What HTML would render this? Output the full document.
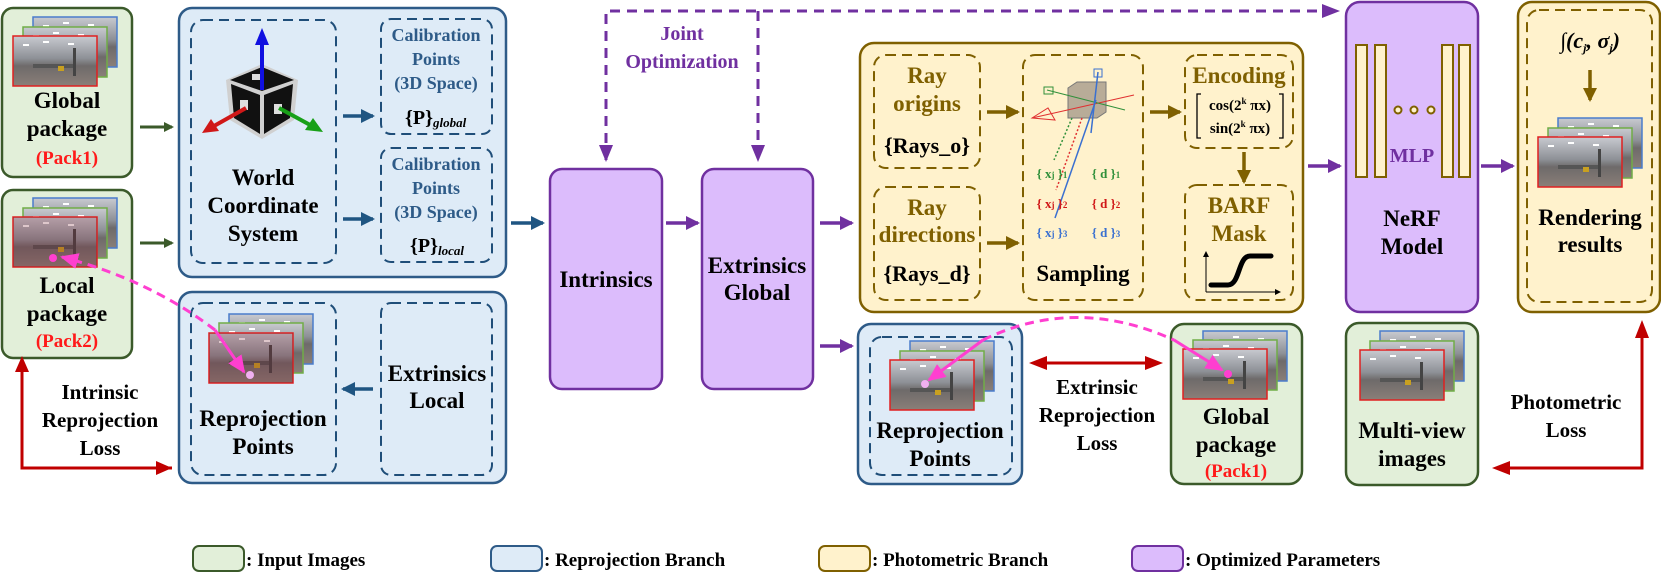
<!DOCTYPE html>
<html><head><meta charset="utf-8"><style>
html,body{margin:0;padding:0;background:#fff}
svg{display:block}
text{font-family:"Liberation Serif",serif;font-weight:bold}
</style></head><body>
<svg width="1661" height="582" viewBox="0 0 1661 582" xmlns="http://www.w3.org/2000/svg">
<defs>
<marker id="ag" markerWidth="10" markerHeight="10" refX="8" refY="5" orient="auto" markerUnits="userSpaceOnUse" viewBox="0 0 10 10"><path d="M0,0L10,5L0,10z" fill="#3b5a2a"/></marker>
<marker id="ab" markerWidth="14" markerHeight="14" refX="12" refY="7" orient="auto" markerUnits="userSpaceOnUse"><path d="M0,0L14,7L0,14z" fill="#1f5582"/></marker>
<marker id="ap" markerWidth="14" markerHeight="14" refX="12" refY="7" orient="auto" markerUnits="userSpaceOnUse"><path d="M0,0L14,7L0,14z" fill="#7030a0"/></marker>
<marker id="ao" markerWidth="14" markerHeight="14" refX="12" refY="7" orient="auto" markerUnits="userSpaceOnUse"><path d="M0,0L14,7L0,14z" fill="#7f6000"/></marker>
<marker id="ar" markerWidth="16" markerHeight="14" refX="14" refY="7" orient="auto" markerUnits="userSpaceOnUse"><path d="M0,0L16,7L0,14z" fill="#c00000"/></marker>
<marker id="ak" markerWidth="18" markerHeight="16" refX="16" refY="8" orient="auto" markerUnits="userSpaceOnUse"><path d="M0,0L18,8L0,16z" fill="#ff3fd0"/></marker>
<marker id="tiny" markerWidth="6" markerHeight="6" refX="5" refY="3" orient="auto" markerUnits="userSpaceOnUse"><path d="M0,0L6,3L0,6z" fill="#000"/></marker>
<linearGradient id="ph" x1="0" y1="0" x2="0" y2="1">
<stop offset="0" stop-color="#c8cad0"/><stop offset="0.45" stop-color="#8d9096"/><stop offset="0.6" stop-color="#6e6a6a"/><stop offset="1" stop-color="#8a7f78"/></linearGradient>
<symbol id="photo" viewBox="0 0 84 50" width="84" height="50">
<rect width="84" height="50" fill="url(#ph)"/>
<rect x="10" y="8" width="6" height="2" fill="#fff"/><rect x="30" y="5" width="6" height="2" fill="#fff"/><rect x="55" y="7" width="6" height="2" fill="#fff"/>
<rect x="60" y="12" width="3" height="28" fill="#444"/><rect x="20" y="28" width="40" height="4" fill="#555"/>
<rect x="45" y="30" width="6" height="5" fill="#c8a020"/>
</symbol>
</defs>

<!-- Global package left -->
<rect x="2" y="8" width="130" height="169" rx="11" fill="#e2efd9" stroke="#3b5a2a" stroke-width="2.5"/>
<g>
<use href="#photo" x="33" y="17"/><rect x="33" y="17" width="84" height="50" fill="none" stroke="#4a7ccc" stroke-width="1.5"/>
<use href="#photo" x="23" y="27"/><rect x="23" y="27" width="84" height="50" fill="none" stroke="#70ad47" stroke-width="1.5"/>
<use href="#photo" x="13" y="36"/><rect x="13" y="36" width="84" height="50" fill="none" stroke="#e02020" stroke-width="1.5"/>
</g>
<text x="67" y="108" font-size="23" text-anchor="middle">Global</text>
<text x="67" y="136" font-size="23" text-anchor="middle">package</text>
<text x="67" y="164" font-size="19" text-anchor="middle" fill="#ff1a1a">(Pack1)</text>

<!-- Local package -->
<rect x="2" y="190" width="130" height="168" rx="11" fill="#e2efd9" stroke="#3b5a2a" stroke-width="2.5"/>
<use href="#photo" x="33" y="198"/><rect x="33" y="198" width="84" height="50" fill="none" stroke="#4a7ccc" stroke-width="1.5"/>
<use href="#photo" x="23" y="208"/><rect x="23" y="208" width="84" height="50" fill="none" stroke="#70ad47" stroke-width="1.5"/>
<use href="#photo" x="13" y="217"/><rect x="13" y="217" width="84" height="50" fill="none" stroke="#e02020" stroke-width="1.5"/>
<rect x="13" y="217" width="84" height="50" fill="#7a2030" opacity="0.25"/>
<text x="67" y="293" font-size="23" text-anchor="middle">Local</text>
<text x="67" y="321" font-size="23" text-anchor="middle">package</text>
<text x="67" y="347" font-size="19" text-anchor="middle" fill="#ff1a1a">(Pack2)</text>

<!-- green arrows -->
<line x1="140" y1="127" x2="172" y2="127" stroke="#3b5a2a" stroke-width="3" marker-end="url(#ag)"/>
<line x1="140" y1="243" x2="172" y2="243" stroke="#3b5a2a" stroke-width="3" marker-end="url(#ag)"/>

<!-- Blue top box -->
<rect x="179" y="8" width="327" height="269" rx="13" fill="#deebf7" stroke="#2e5b88" stroke-width="2.5"/>
<rect x="191" y="20" width="145" height="243" rx="12" fill="none" stroke="#1f4e79" stroke-width="2" stroke-dasharray="10 6"/>
<rect x="381" y="19" width="111" height="115" rx="10" fill="none" stroke="#1f4e79" stroke-width="2" stroke-dasharray="10 6"/>
<rect x="381" y="148" width="111" height="114" rx="10" fill="none" stroke="#1f4e79" stroke-width="2" stroke-dasharray="10 6"/>
<!-- cube -->
<polygon points="226,80 262,64 298,80 294,120 262,139 230,120" fill="#d0d0d0"/>
<polygon points="230,80 262,67 294,80 262,91" fill="#111"/>
<polygon points="231,84 260,95 260,134 234,118" fill="#111"/>
<polygon points="264,95 293,84 290,118 264,134" fill="#111"/>
<rect x="252" y="74" width="10" height="6" fill="#ddd"/><rect x="240" y="100" width="8" height="10" fill="#ddd"/><rect x="274" y="104" width="8" height="10" fill="#ddd"/>
<line x1="262" y1="90" x2="262" y2="40" stroke="#1010e0" stroke-width="4"/><polygon points="255,45 262,28 269,45" fill="#1010e0"/>
<line x1="246" y1="108" x2="214" y2="126" stroke="#d01818" stroke-width="4"/><polygon points="202,133 211,119 219,131" fill="#d01818"/>
<line x1="279" y1="108" x2="312" y2="126" stroke="#18a018" stroke-width="4"/><polygon points="323,132 305,130 313,118" fill="#18a018"/>
<text x="263" y="185" font-size="23" text-anchor="middle">World</text>
<text x="263" y="213" font-size="23" text-anchor="middle">Coordinate</text>
<text x="263" y="241" font-size="23" text-anchor="middle">System</text>
<g fill="#2e5b88" font-size="18" text-anchor="middle">
<text x="436" y="41">Calibration</text><text x="436" y="65">Points</text><text x="436" y="89">(3D Space)</text>
<text x="436" y="170">Calibration</text><text x="436" y="194">Points</text><text x="436" y="218">(3D Space)</text>
</g>
<text x="405" y="124" font-size="20">{P}<tspan font-size="13" font-style="italic" dy="3">global</tspan></text>
<text x="410" y="252" font-size="20">{P}<tspan font-size="13" font-style="italic" dy="3">local</tspan></text>
<line x1="343" y1="116" x2="373" y2="116" stroke="#1f5582" stroke-width="3.5" marker-end="url(#ab)"/>
<line x1="343" y1="219" x2="373" y2="219" stroke="#1f5582" stroke-width="3.5" marker-end="url(#ab)"/>

<!-- Blue bottom box -->
<rect x="179" y="292" width="327" height="191" rx="13" fill="#deebf7" stroke="#2e5b88" stroke-width="2.5"/>
<rect x="191" y="303" width="145" height="172" rx="12" fill="none" stroke="#1f4e79" stroke-width="2" stroke-dasharray="10 6"/>
<rect x="381" y="303" width="111" height="172" rx="10" fill="none" stroke="#1f4e79" stroke-width="2" stroke-dasharray="10 6"/>
<use href="#photo" x="229" y="314"/><rect x="229" y="314" width="84" height="50" fill="none" stroke="#4a7ccc" stroke-width="1.5"/>
<use href="#photo" x="219" y="323"/><rect x="219" y="323" width="84" height="50" fill="none" stroke="#70ad47" stroke-width="1.5"/>
<use href="#photo" x="209" y="333"/><rect x="209" y="333" width="84" height="50" fill="none" stroke="#e02020" stroke-width="1.5"/>
<rect x="209" y="333" width="84" height="50" fill="#7a2030" opacity="0.25"/>
<text x="263" y="426" font-size="23" text-anchor="middle">Reprojection</text>
<text x="263" y="454" font-size="23" text-anchor="middle">Points</text>
<text x="437" y="381" font-size="23" text-anchor="middle">Extrinsics</text>
<text x="437" y="408" font-size="23" text-anchor="middle">Local</text>
<line x1="373" y1="389" x2="343" y2="389" stroke="#1f5582" stroke-width="3.5" marker-end="url(#ab)"/>

<!-- pink dashed left -->
<path d="M215,330 Q150,280 62,257" fill="none" stroke="#ff3fd0" stroke-width="3" stroke-dasharray="9 6" marker-end="url(#ak)"/>
<line x1="215" y1="330" x2="244" y2="372" stroke="#ff3fd0" stroke-width="3" marker-end="url(#ak)"/>
<circle cx="53" cy="258" r="4" fill="#ff3fd0"/>
<circle cx="250" cy="375" r="4" fill="#f0b0f0"/>

<!-- red intrinsic loss -->
<polyline points="172,468 22,468 22,372" fill="none" stroke="#c00000" stroke-width="3"/>
<polygon points="15,372 22,356 29,372" fill="#c00000"/>
<polygon points="156,461 172,468 156,475" fill="#c00000"/>
<text x="100" y="399" font-size="21" text-anchor="middle">Intrinsic</text>
<text x="100" y="427" font-size="21" text-anchor="middle">Reprojection</text>
<text x="100" y="455" font-size="21" text-anchor="middle">Loss</text>

<!-- arrows to intrinsics -->
<line x1="511" y1="223" x2="543" y2="223" stroke="#1f5582" stroke-width="3.5" marker-end="url(#ab)"/>

<!-- Intrinsics / Extrinsics -->
<rect x="550" y="169" width="112" height="220" rx="12" fill="#dcbcfc" stroke="#7030a0" stroke-width="2.5"/>
<text x="606" y="287" font-size="23" text-anchor="middle">Intrinsics</text>
<rect x="702" y="169" width="111" height="220" rx="12" fill="#dcbcfc" stroke="#7030a0" stroke-width="2.5"/>
<text x="757" y="273" font-size="23" text-anchor="middle">Extrinsics</text>
<text x="757" y="300" font-size="23" text-anchor="middle">Global</text>
<line x1="666" y1="223" x2="698" y2="223" stroke="#7030a0" stroke-width="3.5" marker-end="url(#ap)"/>
<line x1="820" y1="223" x2="852" y2="223" stroke="#7030a0" stroke-width="3.5" marker-end="url(#ap)"/>
<line x1="820" y1="346" x2="852" y2="346" stroke="#7030a0" stroke-width="3.5" marker-end="url(#ap)"/>

<!-- joint optimization -->
<polyline points="606,160 606,11 1338,11" fill="none" stroke="#7030a0" stroke-width="3" stroke-dasharray="10 7"/>
<line x1="758" y1="11" x2="758" y2="160" stroke="#7030a0" stroke-width="3" stroke-dasharray="10 7"/>
<polygon points="599,145 606,162 613,145" fill="#7030a0"/>
<polygon points="751,145 758,162 765,145" fill="#7030a0"/>
<polygon points="1322,4 1340,11 1322,18" fill="#7030a0"/>
<text x="682" y="40" font-size="20" text-anchor="middle" fill="#7030a0">Joint</text>
<text x="682" y="68" font-size="20" text-anchor="middle" fill="#7030a0">Optimization</text>

<!-- Photometric box -->
<rect x="860" y="43" width="443" height="269" rx="14" fill="#fff2cc" stroke="#7f6000" stroke-width="2.5"/>
<g fill="none" stroke="#7f6000" stroke-width="2" stroke-dasharray="10 6">
<rect x="874" y="55" width="106" height="113" rx="12"/>
<rect x="874" y="187" width="106" height="113" rx="12"/>
<rect x="1023" y="55" width="120" height="245" rx="12"/>
<rect x="1185" y="55" width="108" height="93" rx="12"/>
<rect x="1185" y="185" width="108" height="115" rx="12"/>
</g>
<g fill="#7f6000" font-size="23" text-anchor="middle">
<text x="927" y="83">Ray</text><text x="927" y="111">origins</text>
<text x="927" y="215">Ray</text><text x="927" y="242">directions</text>
<text x="1239" y="83">Encoding</text>
<text x="1239" y="213">BARF</text><text x="1239" y="241">Mask</text>
</g>
<text x="927" y="153" font-size="22" text-anchor="middle">{Rays_o}</text>
<text x="927" y="281" font-size="22" text-anchor="middle">{Rays_d}</text>
<text x="1083" y="281" font-size="23" text-anchor="middle">Sampling</text>
<line x1="987" y1="112" x2="1018" y2="112" stroke="#7f6000" stroke-width="3.5" marker-end="url(#ao)"/>
<line x1="987" y1="243" x2="1018" y2="243" stroke="#7f6000" stroke-width="3.5" marker-end="url(#ao)"/>
<line x1="1150" y1="112" x2="1180" y2="112" stroke="#7f6000" stroke-width="3.5" marker-end="url(#ao)"/>
<line x1="1244" y1="152" x2="1244" y2="182" stroke="#7f6000" stroke-width="3.5" marker-end="url(#ao)"/>
<!-- sampling illustration -->
<polygon points="1068,88 1077,82 1106,82 1106,112 1097,118 1068,118" fill="#b8ac98" stroke="#777" stroke-width="1"/>
<line x1="1032" y1="118" x2="1134" y2="95" stroke="#e03030" stroke-width="1"/>
<polygon points="1032,118 1048,108 1055,120" fill="none" stroke="#e03030" stroke-width="1"/>
<line x1="1047" y1="90" x2="1125" y2="110" stroke="#30903a" stroke-width="1"/>
<rect x="1044" y="87" width="9" height="7" fill="none" stroke="#30903a"/>
<line x1="1098" y1="72" x2="1091" y2="133" stroke="#3a70d0" stroke-width="1.5"/>
<rect x="1094" y="69" width="8" height="8" fill="none" stroke="#3a70d0"/>
<path d="M1070,118 L1054,160 M1078,118 L1058,182 M1090,118 L1055,220" stroke-width="1.3" stroke-dasharray="2 2" fill="none"/>
<line x1="1072" y1="118" x2="1054" y2="160" stroke="#30903a" stroke-width="1.5" stroke-dasharray="2 2"/>
<line x1="1082" y1="118" x2="1056" y2="190" stroke="#e03030" stroke-width="1.5" stroke-dasharray="2 2"/>
<line x1="1096" y1="100" x2="1055" y2="218" stroke="#3a70d0" stroke-width="1.5"/>
<g font-size="13" text-anchor="middle">
<text x="1052" y="178" fill="#30903a">{ x<tspan font-size="9">j</tspan> }<tspan font-size="9">1</tspan></text>
<text x="1106" y="178" fill="#30903a">{ d }<tspan font-size="9">1</tspan></text>
<text x="1052" y="208" fill="#d01818">{ x<tspan font-size="9">j</tspan> }<tspan font-size="9">2</tspan></text>
<text x="1106" y="208" fill="#d01818">{ d }<tspan font-size="9">2</tspan></text>
<text x="1052" y="237" fill="#3a70d0">{ x<tspan font-size="9">j</tspan> }<tspan font-size="9">3</tspan></text>
<text x="1106" y="237" fill="#3a70d0">{ d }<tspan font-size="9">3</tspan></text>
</g>
<!-- encoding bracket -->
<path d="M1201,94 L1197,94 L1197,138 L1201,138 M1279,94 L1283,94 L1283,138 L1279,138" fill="none" stroke="#000" stroke-width="1.3"/>
<text x="1240" y="110" font-size="15" text-anchor="middle">cos(2<tspan font-size="9" dy="-6">k</tspan><tspan dy="6"> πx)</tspan></text>
<text x="1240" y="133" font-size="15" text-anchor="middle">sin(2<tspan font-size="9" dy="-6">k</tspan><tspan dy="6"> πx)</tspan></text>
<!-- sigmoid -->
<line x1="1206" y1="292" x2="1206" y2="252" stroke="#000" stroke-width="1" marker-end="url(#tiny)"/>
<line x1="1206" y1="292" x2="1280" y2="292" stroke="#000" stroke-width="1" marker-end="url(#tiny)"/>
<path d="M1211,285 L1228,285 C1240,285 1238,256 1250,256 L1271,256" fill="none" stroke="#000" stroke-width="5" stroke-linecap="round"/>

<!-- arrows to NeRF -->
<line x1="1308" y1="166" x2="1340" y2="166" stroke="#7030a0" stroke-width="3.5" marker-end="url(#ap)"/>
<line x1="1481" y1="166" x2="1513" y2="166" stroke="#7030a0" stroke-width="3.5" marker-end="url(#ap)"/>

<!-- NeRF -->
<rect x="1346" y="2" width="132" height="310" rx="14" fill="#dcbcfc" stroke="#7030a0" stroke-width="2.5"/>
<g fill="#fff2cc" stroke="#7f6000" stroke-width="2">
<rect x="1356" y="45" width="11" height="132"/><rect x="1375" y="45" width="11" height="132"/>
<rect x="1442" y="45" width="11" height="132"/><rect x="1459" y="45" width="11" height="132"/>
<circle cx="1398" cy="110" r="3.5"/><circle cx="1414" cy="110" r="3.5"/><circle cx="1431" cy="110" r="3.5"/>
</g>
<text x="1412" y="162" font-size="20" text-anchor="middle" fill="#7030a0">MLP</text>
<text x="1412" y="226" font-size="23" text-anchor="middle">NeRF</text>
<text x="1412" y="254" font-size="23" text-anchor="middle">Model</text>

<!-- Rendering -->
<rect x="1518" y="2" width="142" height="310" rx="14" fill="#fff2cc" stroke="#7f6000" stroke-width="2.5"/>
<rect x="1527" y="10" width="125" height="292" rx="12" fill="none" stroke="#7f6000" stroke-width="2" stroke-dasharray="10 6"/>
<text x="1590" y="48" font-size="22" text-anchor="middle" font-weight="normal" font-style="italic">∫(c<tspan font-size="12" dy="4">j</tspan><tspan dy="-4">, σ</tspan><tspan font-size="12" dy="4">j</tspan><tspan dy="-4">)</tspan></text>
<line x1="1590" y1="70" x2="1590" y2="100" stroke="#7f6000" stroke-width="3.5" marker-end="url(#ao)"/>
<use href="#photo" x="1558" y="118"/><rect x="1558" y="118" width="84" height="50" fill="none" stroke="#4a7ccc" stroke-width="1.5"/>
<use href="#photo" x="1548" y="128"/><rect x="1548" y="128" width="84" height="50" fill="none" stroke="#70ad47" stroke-width="1.5"/>
<use href="#photo" x="1538" y="137"/><rect x="1538" y="137" width="84" height="50" fill="none" stroke="#e02020" stroke-width="1.5"/>
<text x="1590" y="225" font-size="23" text-anchor="middle">Rendering</text>
<text x="1590" y="252" font-size="23" text-anchor="middle">results</text>

<!-- Reprojection 2 -->
<rect x="858" y="324" width="164" height="160" rx="13" fill="#deebf7" stroke="#2e5b88" stroke-width="2.5"/>
<rect x="870" y="337" width="142" height="138" rx="12" fill="none" stroke="#1f4e79" stroke-width="2" stroke-dasharray="10 6"/>
<use href="#photo" x="910" y="341"/><rect x="910" y="341" width="84" height="50" fill="none" stroke="#4a7ccc" stroke-width="1.5"/>
<use href="#photo" x="900" y="351"/><rect x="900" y="351" width="84" height="50" fill="none" stroke="#70ad47" stroke-width="1.5"/>
<use href="#photo" x="890" y="360"/><rect x="890" y="360" width="84" height="50" fill="none" stroke="#e02020" stroke-width="1.5"/>
<text x="940" y="438" font-size="23" text-anchor="middle">Reprojection</text>
<text x="940" y="466" font-size="23" text-anchor="middle">Points</text>

<!-- Extrinsic loss -->
<line x1="1045" y1="363" x2="1147" y2="363" stroke="#c00000" stroke-width="3"/>
<polygon points="1029,363 1047,356 1047,370" fill="#c00000"/>
<polygon points="1163,363 1145,356 1145,370" fill="#c00000"/>
<text x="1097" y="394" font-size="21" text-anchor="middle">Extrinsic</text>
<text x="1097" y="422" font-size="21" text-anchor="middle">Reprojection</text>
<text x="1097" y="450" font-size="21" text-anchor="middle">Loss</text>

<!-- Global package 2 -->
<rect x="1171" y="324" width="131" height="160" rx="13" fill="#e2efd9" stroke="#3b5a2a" stroke-width="2.5"/>
<use href="#photo" x="1203" y="331"/><rect x="1203" y="331" width="84" height="50" fill="none" stroke="#4a7ccc" stroke-width="1.5"/>
<use href="#photo" x="1193" y="340"/><rect x="1193" y="340" width="84" height="50" fill="none" stroke="#70ad47" stroke-width="1.5"/>
<use href="#photo" x="1183" y="349"/><rect x="1183" y="349" width="84" height="50" fill="none" stroke="#e02020" stroke-width="1.5"/>
<text x="1236" y="424" font-size="23" text-anchor="middle">Global</text>
<text x="1236" y="452" font-size="23" text-anchor="middle">package</text>
<text x="1236" y="477" font-size="19" text-anchor="middle" fill="#ff1a1a">(Pack1)</text>

<!-- pink arc -->
<path d="M983,340 Q1075,295 1174,340" fill="none" stroke="#ff3fd0" stroke-width="3" stroke-dasharray="9 6"/>
<line x1="1174" y1="340" x2="1222" y2="370" stroke="#ff3fd0" stroke-width="3" marker-end="url(#ak)"/>
<line x1="983" y1="340" x2="929" y2="380" stroke="#ff3fd0" stroke-width="3" marker-end="url(#ak)"/>
<circle cx="1228" cy="374" r="4" fill="#ff3fd0"/>
<circle cx="925" cy="384" r="4" fill="#f0b0f0"/>

<!-- Multi-view -->
<rect x="1346" y="323" width="132" height="162" rx="13" fill="#e2efd9" stroke="#3b5a2a" stroke-width="2.5"/>
<use href="#photo" x="1380" y="331"/><rect x="1380" y="331" width="84" height="50" fill="none" stroke="#4a7ccc" stroke-width="1.5"/>
<use href="#photo" x="1370" y="341"/><rect x="1370" y="341" width="84" height="50" fill="none" stroke="#70ad47" stroke-width="1.5"/>
<use href="#photo" x="1360" y="350"/><rect x="1360" y="350" width="84" height="50" fill="none" stroke="#e02020" stroke-width="1.5"/>
<text x="1412" y="438" font-size="23" text-anchor="middle">Multi-view</text>
<text x="1412" y="466" font-size="23" text-anchor="middle">images</text>

<!-- Photometric loss -->
<polyline points="1508,468 1642,468 1642,336" fill="none" stroke="#c00000" stroke-width="3"/>
<polygon points="1635,338 1642,320 1649,338" fill="#c00000"/>
<polygon points="1510,461 1492,468 1510,475" fill="#c00000"/>
<text x="1566" y="409" font-size="21" text-anchor="middle">Photometric</text>
<text x="1566" y="437" font-size="21" text-anchor="middle">Loss</text>

<!-- Legend -->
<rect x="193" y="546" width="51" height="25" rx="6" fill="#e2efd9" stroke="#3b5a2a" stroke-width="2"/>
<text x="246" y="566" font-size="19">: Input Images</text>
<rect x="491" y="546" width="51" height="25" rx="6" fill="#deebf7" stroke="#2e5b88" stroke-width="2"/>
<text x="544" y="566" font-size="19">: Reprojection Branch</text>
<rect x="819" y="546" width="51" height="25" rx="6" fill="#fff2cc" stroke="#7f6000" stroke-width="2"/>
<text x="872" y="566" font-size="19">: Photometric Branch</text>
<rect x="1132" y="546" width="51" height="25" rx="6" fill="#dcbcfc" stroke="#7030a0" stroke-width="2"/>
<text x="1185" y="566" font-size="19">: Optimized Parameters</text>
</svg>
</body></html>
